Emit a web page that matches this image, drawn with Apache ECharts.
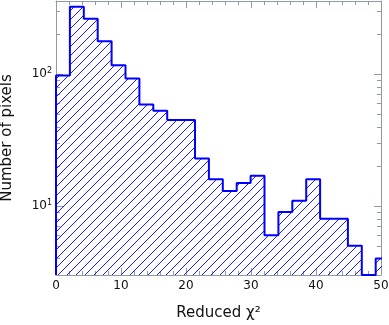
<!DOCTYPE html>
<html><head><meta charset="utf-8">
<script src="https://cdn.jsdelivr.net/npm/echarts@6/dist/echarts.min.js"></script>
<style>html,body{margin:0;padding:0;background:#fff}#c{width:389px;height:325px}</style>
</head><body><div id="c"></div>
<script>
// ---- data ----
const binStart = 0;
const binWidth = 2.1385;
const counts = [98, 325, 264, 178, 117, 93, 59, 53, 45, 45, 23, 16, 13, 15, 17, 6, 9, 11, 16, 8, 8, 5, 0, 4];
const xTicks = [0, 10, 20, 30, 40, 50];
const yMajorTicks = [10, 100];
const yMinorTicks = [3, 4, 5, 6, 7, 8, 9, 20, 30, 40, 50, 60, 70, 80, 90, 200, 300];
const xLabel = 'Reduced χ²';
const yLabel = 'Number of pixels';
const X_MIN = 0, X_MAX = 50, Y_MIN = 3, Y_MAX = 360;

// ---- styling ----
const FONT = 'DejaVu Sans';
const AXIS = '#8f9aa4';
const BLUE = '#0000ff';

function hatchCanvas() {
  const s = 9;
  const c = document.createElement('canvas');
  c.width = s; c.height = s;
  const g = c.getContext('2d');
  g.strokeStyle = BLUE;
  g.lineWidth = 0.9;
  g.beginPath();
  for (const k of [-1, 0, 1]) { g.moveTo(k * s, s); g.lineTo(k * s + s, 0); }
  g.stroke();
  return c;
}

// step outline points built from the bins
const pts = [[binStart, Y_MIN]];
counts.forEach((c, i) => pts.push([binStart + i * binWidth, Math.max(c, Y_MIN)]));
pts.push([binStart + counts.length * binWidth, Math.max(counts[counts.length - 1], Y_MIN)]);

const lineStyle = { color: AXIS, width: 1 };
function xAx(pos, withLabel) {
  return {
    type: 'value', min: X_MIN, max: X_MAX, interval: 10, position: pos,
    axisLine: { show: true, onZero: false, lineStyle },
    axisTick: { show: true, inside: true, length: 7, lineStyle },
    minorTick: { show: true, splitNumber: 5, length: 4, lineStyle },
    splitLine: { show: false }, minorSplitLine: { show: false },
    axisLabel: withLabel ? { show: true, margin: 5, color: '#111', fontSize: 12, fontFamily: FONT,
      customValues: xTicks } : { show: false },
    name: withLabel ? xLabel : '', nameLocation: 'middle', nameGap: 31,
    nameTextStyle: { color: '#111', fontSize: 15, fontFamily: FONT }
  };
}
function yAx(pos, major, withLabel) {
  return {
    type: 'log', logBase: 10, min: Y_MIN, max: Y_MAX, position: pos,
    axisLine: { show: major, onZero: false, lineStyle },
    axisTick: { show: true, inside: true, length: major ? 7 : 4, lineStyle,
      customValues: major ? yMajorTicks : yMinorTicks },
    splitLine: { show: false },
    axisLabel: withLabel ? {
      show: true, margin: 4, customValues: yMajorTicks,
      formatter: v => '{b|10}{s|' + Math.round(Math.log10(v)) + '}',
      rich: {
        b: { fontSize: 12, fontFamily: FONT, color: '#111' },
        s: { fontSize: 8, fontFamily: FONT, color: '#111', padding: [0, 0, 7, 0] }
      }
    } : { show: false },
    name: withLabel ? yLabel : '', nameLocation: 'middle', nameGap: 41,
    nameTextStyle: { color: '#111', fontSize: 15, fontFamily: FONT }
  };
}

const chart = echarts.init(document.getElementById('c'), null, { renderer: 'canvas' });
chart.setOption({
  animation: false,
  grid: { left: 56, right: 8, top: 1, bottom: 50, containLabel: false, outerBoundsMode: 'none' },
  xAxis: [xAx('bottom', true), xAx('top', false)],
  yAxis: [yAx('left', true, true), yAx('left', false, false), yAx('right', true, false), yAx('right', false, false)],
  series: [{
    type: 'line', xAxisIndex: 0, yAxisIndex: 0,
    step: 'end', symbol: 'none', clip: true,
    data: pts,
    lineStyle: { color: BLUE, width: 2 },
    areaStyle: { origin: 'start', color: { image: hatchCanvas(), repeat: 'repeat' }, opacity: 1 }
  }]
});
</script></body></html>
